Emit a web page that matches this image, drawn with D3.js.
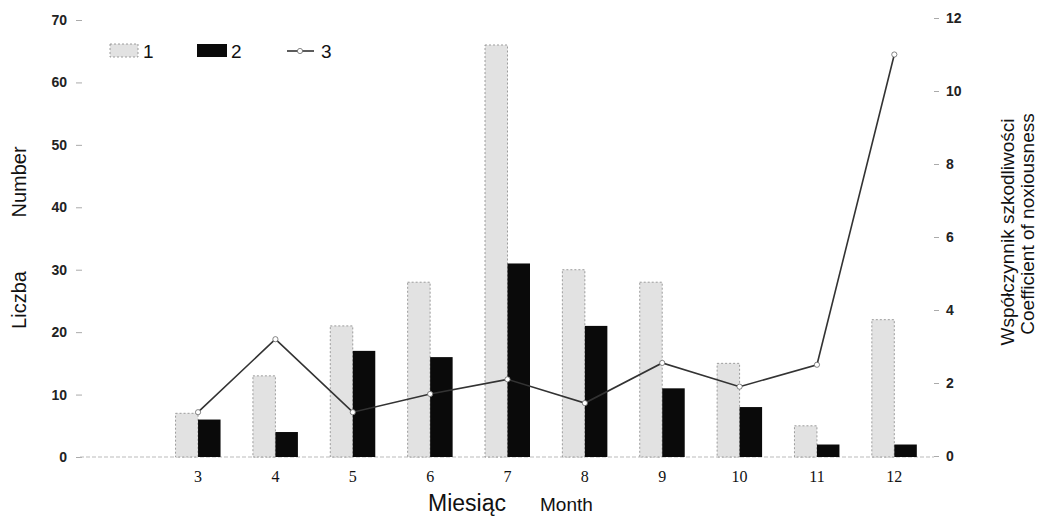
<!DOCTYPE html>
<html>
<head>
<meta charset="utf-8">
<script src="https://cdn.jsdelivr.net/npm/d3@7"></script>
<style>
  body { margin: 0; background: #fff; }
  svg { display: block; }
</style>
</head>
<body>
<svg id="chart" width="1038" height="516"></svg>
<script>
// months (first slot is empty in the original)
const months = ["", "3", "4", "5", "6", "7", "8", "9", "10", "11", "12"]
const series1 = [null, 7, 13, 21, 28, 66, 30, 28, 15, 5, 22]
const series2 = [null, 6, 4, 17, 16, 31, 21, 11, 8, 2, 2]
const coef    = [null, 1.2, 3.2, 1.2, 1.7, 2.1, 1.45, 2.55, 1.9, 2.5, 11.0]
const leftTicks  = [0, 10, 20, 30, 40, 50, 60, 70]
const rightTicks = [0, 2, 4, 6, 8, 10, 12]

const svg = d3.select("#chart")

const x = d3.scaleBand().domain(months).range([82, 933])
const yL = d3.scaleLinear().domain([0, 70]).range([457, 20])
const yR = d3.scaleLinear().domain([0, 12]).range([456, 18])

const barW = 22.5
const axisFont = "Arial, 'Liberation Sans', sans-serif"

// left axis
const gl = svg.append("g").attr("transform", "translate(82,0)")
  .call(d3.axisLeft(yL).tickValues(leftTicks).tickSize(6).tickPadding(9))
gl.select(".domain").remove()
gl.selectAll("line").attr("stroke", "#aaa")
gl.selectAll("text").attr("font-family", axisFont).attr("font-size", 14)
  .attr("font-weight", "bold").attr("fill", "#222")

// right axis
const gr = svg.append("g").attr("transform", "translate(934,0)")
  .call(d3.axisRight(yR).tickValues(rightTicks).tickSize(5).tickPadding(7))
gr.select(".domain").remove()
gr.selectAll("line").attr("stroke", "#aaa")
gr.selectAll("text").attr("font-family", axisFont).attr("font-size", 14)
  .attr("font-weight", "bold").attr("fill", "#222")

// baseline
svg.append("line")
  .attr("x1", 80).attr("x2", 934).attr("y1", yL(0)).attr("y2", yL(0))
  .attr("stroke", "#bbb").attr("stroke-width", 1).attr("stroke-dasharray", "4,2")

// bottom axis (serif labels, no line)
const gb = svg.append("g").attr("transform", "translate(0,471)")
  .call(d3.axisBottom(x).tickSize(0).tickPadding(0))
gb.select(".domain").remove()
gb.selectAll("text").attr("font-family", "'Liberation Serif', 'Times New Roman', serif")
  .attr("font-size", 16).attr("fill", "#111")

const idx = d3.range(months.length).filter(i => series1[i] != null)

// series 1 - light bars
svg.append("g").selectAll("rect")
  .data(idx).join("rect")
  .attr("x", i => x(months[i]) + x.bandwidth() / 2 - barW)
  .attr("y", i => yL(series1[i]))
  .attr("width", barW)
  .attr("height", i => yL(0) - yL(series1[i]))
  .attr("fill", "#e2e2e2")
  .attr("stroke", "#888").attr("stroke-width", 0.8).attr("stroke-dasharray", "2,2")

// series 2 - black bars
svg.append("g").selectAll("rect")
  .data(idx).join("rect")
  .attr("x", i => x(months[i]) + x.bandwidth() / 2)
  .attr("y", i => yL(series2[i]))
  .attr("width", barW)
  .attr("height", i => yL(0) - yL(series2[i]))
  .attr("fill", "#0a0a0a")

// series 3 - coefficient line
const line = d3.line()
  .x(i => x(months[i]) + x.bandwidth() / 2)
  .y(i => yR(coef[i]))
svg.append("path").datum(idx)
  .attr("d", line).attr("fill", "none")
  .attr("stroke", "#333").attr("stroke-width", 1.6)
svg.append("g").selectAll("circle")
  .data(idx).join("circle")
  .attr("cx", i => x(months[i]) + x.bandwidth() / 2)
  .attr("cy", i => yR(coef[i]))
  .attr("r", 2.6)
  .attr("fill", "#fff").attr("stroke", "#666").attr("stroke-width", 0.8)

// legend
const lg = svg.append("g").attr("font-family", axisFont).attr("font-size", 19).attr("fill", "#111")
lg.append("rect").attr("x", 110).attr("y", 44).attr("width", 28).attr("height", 13)
  .attr("fill", "#e2e2e2").attr("stroke", "#888").attr("stroke-width", 0.8).attr("stroke-dasharray", "2,2")
lg.append("text").attr("x", 143).attr("y", 58).text("1")
lg.append("rect").attr("x", 197).attr("y", 44).attr("width", 30).attr("height", 13).attr("fill", "#0a0a0a")
lg.append("text").attr("x", 231).attr("y", 58).text("2")
lg.append("line").attr("x1", 287).attr("x2", 314).attr("y1", 51).attr("y2", 51)
  .attr("stroke", "#333").attr("stroke-width", 1.6)
lg.append("circle").attr("cx", 300).attr("cy", 51).attr("r", 2.6)
  .attr("fill", "#fff").attr("stroke", "#666").attr("stroke-width", 0.8)
lg.append("text").attr("x", 321).attr("y", 58).text("3")

// axis titles
const titles = svg.append("g").attr("font-family", axisFont).attr("fill", "#111")
titles.append("text").attr("transform", "translate(26,182) rotate(-90)")
  .attr("text-anchor", "middle").attr("font-size", 20).text("Number")
titles.append("text").attr("transform", "translate(26,300) rotate(-90)")
  .attr("text-anchor", "middle").attr("font-size", 20).text("Liczba")
titles.append("text").attr("transform", "translate(1014,232) rotate(-90)")
  .attr("text-anchor", "middle").attr("font-size", 19).text("Współczynnik szkodliwości")
titles.append("text").attr("transform", "translate(1034,224) rotate(-90)")
  .attr("text-anchor", "middle").attr("font-size", 19).text("Coefficient of noxiousness")
titles.append("text").attr("x", 428).attr("y", 511).attr("font-size", 23).text("Miesiąc")
titles.append("text").attr("x", 540).attr("y", 511).attr("font-size", 19).text("Month")
</script>
</body>
</html>
